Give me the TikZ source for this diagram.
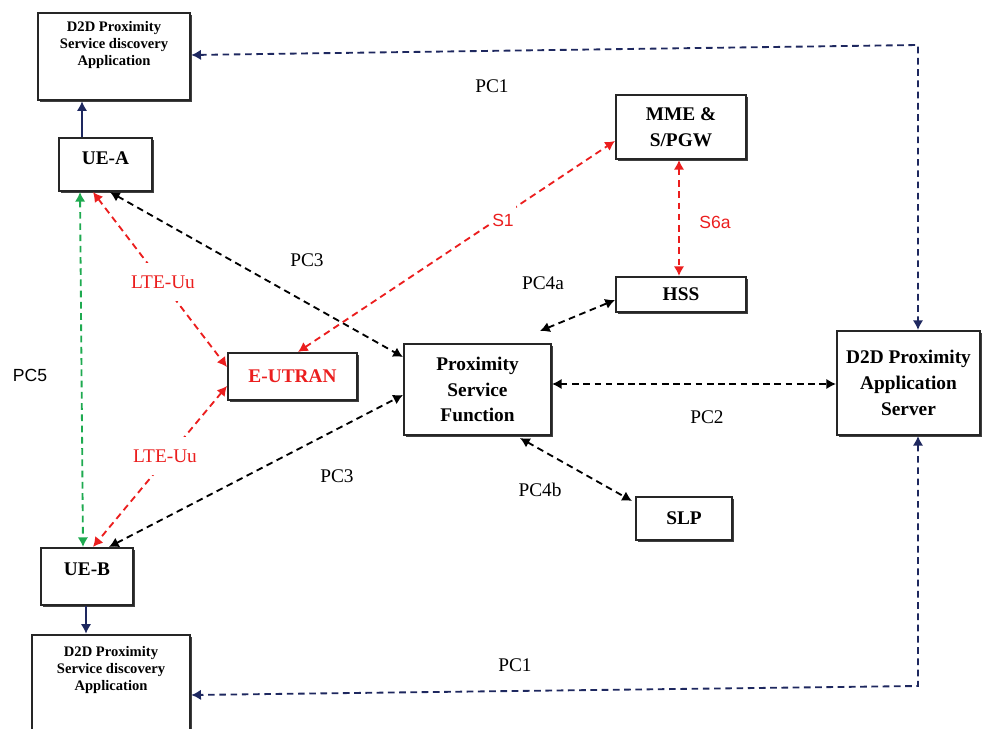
\documentclass[tikz,border=0pt]{standalone}
\usepackage{fontspec}
\setmainfont{Liberation Serif}
\setsansfont{Liberation Sans}
\usetikzlibrary{arrows.meta,shadows,calc}
\definecolor{navy}{RGB}{30,40,95}
\definecolor{lred}{RGB}{235,30,30}
\definecolor{lgreen}{RGB}{30,170,80}
\begin{document}
\begin{tikzpicture}[x=0.02cm,y=-0.02cm,
  >={Latex[length=5.5pt,width=6pt]},
  box/.style={draw=black!85, line width=1.2pt, fill=white,
    drop shadow={shadow xshift=1.3pt, shadow yshift=-1.3pt, fill=black!75, opacity=1},
    inner sep=1pt, align=center, font=\bfseries\fontsize{11}{14.7}\selectfont},
  boxtxt/.style={inner sep=0pt, font=\bfseries\fontsize{11}{13}\selectfont},
  apptxt/.style={inner sep=0pt, align=center, font=\bfseries\fontsize{8.3}{9.9}\selectfont},
  lbl/.style={inner sep=1pt, font=\fontsize{11}{13}\selectfont},
  slbl/.style={inner sep=1pt, font=\sffamily\fontsize{10}{12}\selectfont},
  conn/.style={line width=1.05pt, dash pattern=on 3.8pt off 2.6pt, <->},
  solidnavy/.style={line width=1.05pt, navy, ->},
  gaplbl/.style={fill=white, inner xsep=1pt, inner ysep=7pt}
]
\useasboundingbox (0,0) rectangle (984,729);

% boxes
\node[box, line width=1.5pt, minimum width=3.04cm, minimum height=1.74cm] (appA) at (114,56.5) {};
\node[apptxt] (appAt) at (114,45) {D2D Proximity\\Service discovery\\Application};
\node[box, minimum width=1.86cm, minimum height=1.06cm] (uea) at (105.5,164.5) {};
\node[boxtxt] (ueat) at (105.5,158) {UE-A};
\node[box, minimum width=1.84cm, minimum height=1.14cm] (ueb) at (87,576.5) {};
\node[boxtxt] (uebt) at (87,569) {UE-B};
\node[box, line width=1.5pt, minimum width=3.16cm, minimum height=2.1cm] (appB) at (111,687.5) {};
\node[apptxt] (appBt) at (111,670) {D2D Proximity\\Service discovery\\Application};
\node[box, minimum width=2.58cm, minimum height=0.94cm, text=lred] (eutran) at (292.5,376.5) {E-UTRAN};
\node[box, minimum width=2.94cm, minimum height=1.82cm] (psf) at (477.5,389.5) {Proximity\\Service\\Function};
\node[box, minimum width=2.6cm, minimum height=1.28cm] (mme) at (681,127) {MME \&\\S/PGW};
\node[box, minimum width=2.6cm, minimum height=0.7cm] (hss) at (681,294.5) {HSS};
\node[box, minimum width=2.86cm, minimum height=2.08cm] (server) at (908.5,383) {D2D Proximity\\Application\\Server};
\node[box, minimum width=1.92cm, minimum height=0.86cm] (slp) at (684,518.5) {SLP};

\coordinate (c1) at (918,45);
\coordinate (c2) at (918,686);
\coordinate (c4a) at (540,331);

% solid links to applications
\draw[solidnavy] ($(uea.north)+(-23.5,0)$) -- ($(appA.south)+(-32,0)$);
\draw[solidnavy] ($(ueb.south)+(-1,0)$) -- ($(appB.north)+(-25,0)$);

% PC1
\draw[conn, navy] ($(appA.east)+(0,-1.5)$) -- (c1) -- ($(server.north)+(9.5,0)$);
\draw[conn, navy] ($(server.south)+(9.5,0)$) -- (c2) -- ($(appB.east)+(0,7.5)$);

% PC5
\draw[conn, lgreen] ($(uea.south)+(-25.5,0)$) -- ($(ueb.north)+(-4,0)$);

% LTE-Uu
\draw[conn, lred] ($(uea.south)+(-12.5,0)$) -- ($(eutran.west)+(0,-9.5)$);
\draw[conn, lred] ($(eutran.west)+(0,9.5)$) -- ($(ueb.north)+(6,0)$);

% PC3
\draw[conn, black] ($(uea.south)+(4.5,0)$) -- ($(psf.west)+(0,-32.5)$);
\draw[conn, black] ($(ueb.north)+(22,0)$) -- ($(psf.west)+(0,5.5)$);

% S1, S6a
\draw[conn, lred] ($(eutran.north)+(5.5,0)$) -- ($(mme.west)+(0,14)$);
\draw[conn, lred] ($(mme.south)+(-2,0)$) -- ($(hss.north)+(-2,0)$);

% PC4a, PC4b, PC2
\draw[conn, black] (c4a) -- ($(hss.west)+(0,5.5)$);
\draw[conn, black] ($(psf.south)+(42.5,2)$) -- ($(slp.north west)+(-3,5)$);
\draw[conn, black] ($(psf.east)+(0,-5.5)$) -- ($(server.west)+(0,1)$);

% labels sitting on their lines (white background makes the gap)
\node[lbl, gaplbl, text=lred] (lte1) at (163,282) {LTE-Uu};
\node[lbl, gaplbl, text=lred] (lte2) at (165,456) {LTE-Uu};
\node[slbl, gaplbl, inner ysep=6pt, text=lred] (s1) at (503,220) {S1};

% other labels
\node[lbl] (pc1a) at (492,86) {PC1};
\node[lbl] (pc1b) at (515,665) {PC1};
\node[lbl] (pc3a) at (307,260) {PC3};
\node[lbl] (pc3b) at (337,476) {PC3};
\node[slbl, text=lred] (s6a) at (715,222) {S6a};
\node[lbl] (pc4a) at (543,283) {PC4a};
\node[lbl] (pc4b) at (540,490) {PC4b};
\node[lbl] (pc2) at (707,417) {PC2};
\node[slbl] (pc5) at (30,375) {PC5};
\end{tikzpicture}
\end{document}
